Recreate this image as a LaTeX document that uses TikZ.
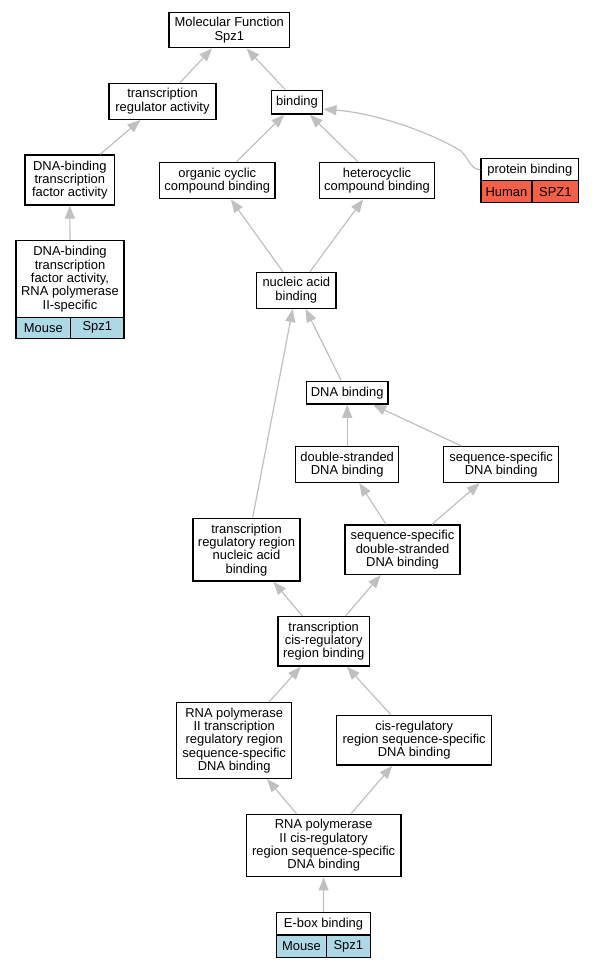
\documentclass[tikz,border=0pt]{standalone}
\usepackage{fontspec}
\setmainfont{Liberation Sans}
\usetikzlibrary{arrows.meta,calc}
\definecolor{mouse}{RGB}{173,216,230}
\definecolor{human}{RGB}{246,96,72}
\definecolor{edgegray}{RGB}{192,192,192}
\tikzset{
  box/.style={draw=black, line width=1.1pt, fill=white, inner sep=0pt, align=center,
    font=\fontsize{9.7pt}{10pt}\selectfont},
  sz/.style 2 args={minimum width=#1*0.75pt, minimum height=#2*0.75pt},
  mcell/.style={box, fill=mouse},
  hcell/.style={box, fill=human},
  edge/.style={draw=edgegray, line width=0.9pt,
    -{Triangle[length=9.75pt, width=7.5pt]}},
}
\begin{document}
\begin{tikzpicture}[x=0.75pt, y=-0.75pt]
\fill[white] (0,0) rectangle (593,968);
\useasboundingbox (0,0) rectangle (593,968);

% nodes
\node[box, sz={120.7}{35.4}] (mf) at (229.3,30) {Molecular Function\\Spz1};
\node[box, sz={107}{36}] (tra) at (162.5,101.3) {transcription\\regulator activity};
\node[box, sz={51.4}{23.7}] (bind) at (297,102.2) {binding};
\node[box, sz={89.7}{50}] (dtfa) at (69.8,180) {DNA-binding\\transcription\\factor activity};
\node[box, sz={115.3}{36.4}] (occ) at (217.3,180.5) {organic cyclic\\compound binding};
\node[box, sz={114.6}{36.4}] (hcb) at (377,180.5) {heterocyclic\\compound binding};
\node[box, sz={97.7}{22}] (pb) at (529.8,169.7) {protein binding};
\node[hcell, sz={51}{22}] (pbh) at (506.5,191.7) {Human};
\node[hcell, sz={46.7}{22}] (pbs) at (555.35,191.7) {SPZ1};
\node[box, sz={108}{76.6}] (dtfa2) at (70,279) {DNA-binding\\transcription\\factor activity,\\RNA polymerase\\II-specific};
\node[mcell, sz={54.7}{21}] (dtfa2m) at (43.35,327.8) {Mouse};
\node[mcell, sz={53.3}{21}] (dtfa2s) at (97.35,327.8) {Spz1};
\node[box, sz={79.3}{36}] (nab) at (296.3,290.3) {nucleic acid\\binding};
\node[box, sz={81.7}{22.7}] (dnab) at (347.2,392.7) {DNA binding};
\node[box, sz={103}{35.6}] (dsdb) at (347.2,464.5) {double-stranded\\DNA binding};
\node[box, sz={115}{35.6}] (ssdb) at (501.2,464.5) {sequence-specific\\DNA binding};
\node[box, sz={107}{62.7}] (trrnab) at (246.5,549.7) {transcription\\regulatory region\\nucleic acid\\binding};
\node[box, sz={115}{49.3}] (ssdsdb) at (402.5,549.7) {sequence-specific\\double-stranded\\DNA binding};
\node[box, sz={91.3}{49.3}] (tcrb) at (323.7,641.3) {transcription\\cis-regulatory\\region binding};
\node[box, sz={115}{75.6}] (r2trr) at (234.2,740.5) {RNA polymerase\\II transcription\\regulatory region\\sequence-specific\\DNA binding};
\node[box, sz={155}{49.7}] (crr) at (414.2,740.2) {cis-regulatory\\region sequence-specific\\DNA binding};
\node[box, sz={154.7}{62.4}] (r2crr) at (323.7,845.5) {RNA polymerase\\II cis-regulatory\\region sequence-specific\\DNA binding};
\node[box, sz={93.6}{22.3}] (ebox) at (323.5,923.8) {E-box binding};
\node[mcell, sz={49.6}{22.3}] (eboxm) at (301.5,946.2) {Mouse};
\node[mcell, sz={44}{22.3}] (eboxs) at (348.3,946.2) {Spz1};

% edges
\draw[edge] (tra) -- (mf);
\draw[edge] (bind) -- (mf);
\draw[edge] (dtfa) -- (tra);
\draw[edge] (dtfa2) -- (dtfa);
\draw[edge] (occ) -- (bind);
\draw[edge] (hcb) -- (bind);
\coordinate (pbin) at ($(bind.east)+(0,7)$);
\draw[edge] (pb.west) .. controls (471,169.5) and (469,159) .. (461,151)
  .. controls (430,132) and (375,113) .. (pbin);
\draw[edge] (nab) -- (occ);
\draw[edge] (nab) -- (hcb);
\draw[edge] (dnab) -- (nab);
\draw[edge] (trrnab) -- (nab);
\draw[edge] (dsdb) -- (dnab);
\draw[edge] (ssdb) -- (dnab);
\draw[edge] (ssdsdb) -- (dsdb);
\draw[edge] (ssdsdb) -- (ssdb);
\draw[edge] (tcrb) -- (trrnab);
\draw[edge] (tcrb) -- (ssdsdb);
\draw[edge] (r2trr) -- (tcrb);
\draw[edge] (crr) -- (tcrb);
\draw[edge] (r2crr) -- (r2trr);
\draw[edge] (r2crr) -- (crr);
\draw[edge] (ebox) -- (r2crr);
\end{tikzpicture}
\end{document}
